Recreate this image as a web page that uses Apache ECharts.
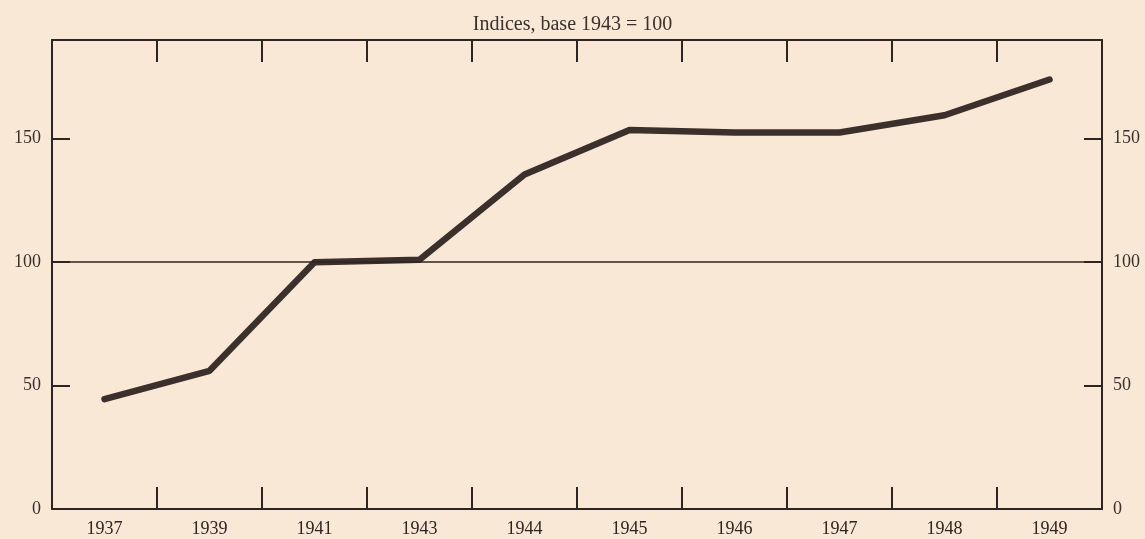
<!DOCTYPE html>
<html>
<head>
<meta charset="utf-8">
<style>
  html, body { margin: 0; padding: 0; background: #f9e8d6; }
  #chart { width: 1145px; height: 539px; }
</style>
<script src="https://cdn.jsdelivr.net/npm/echarts@6/dist/echarts.min.js"></script>
</head>
<body>
<div id="chart"></div>
<script>
const years = ['1937', '1939', '1941', '1943', '1944', '1945', '1946', '1947', '1948', '1949']
const indexValues = [44.5, 56, 100, 101, 135.5, 153.5, 152.5, 152.5, 159.5, 174]
const yTicks = [0, 50, 100, 150]
const baseLine = 100

const ink = '#2e2421'
const font = 'Liberation Serif'

const chart = echarts.init(document.getElementById('chart'))

const yAxisCommon = {
  type: 'value',
  min: 0,
  max: 190,
  interval: 50,
  axisLine: { show: true, lineStyle: { color: ink, width: 2 } },
  axisTick: { show: true, inside: true, length: 18, lineStyle: { color: ink, width: 2 } },
  splitLine: { show: false },
  axisLabel: {
    color: '#3a302c',
    fontFamily: font,
    fontSize: 18,
    margin: 11,
    showMaxLabel: false,
    formatter: (v) => (yTicks.includes(v) ? String(v) : '')
  }
}

const xAxisCommon = {
  type: 'category',
  data: years,
  boundaryGap: true,
  axisLine: { show: true, onZero: false, lineStyle: { color: ink, width: 2 } },
  axisTick: { show: true, alignWithLabel: false, inside: true, length: 22, lineStyle: { color: ink, width: 2 } },
  splitLine: { show: false }
}

chart.setOption({
  backgroundColor: '#f9e8d6',
  animation: false,
  title: {
    text: 'Indices, base 1943 = 100',
    left: 'center',
    top: 10,
    textStyle: { color: '#3a302c', fontFamily: font, fontSize: 20, fontWeight: 'normal' }
  },
  grid: { left: 52, right: 43, top: 40, bottom: 30 },
  xAxis: [
    Object.assign({}, xAxisCommon, {
      position: 'bottom',
      axisLabel: { color: '#2e2421', fontFamily: font, fontSize: 18, margin: 11 }
    }),
    Object.assign({}, xAxisCommon, {
      position: 'top',
      axisLabel: { show: false }
    })
  ],
  yAxis: [
    Object.assign({}, yAxisCommon, { position: 'left' }),
    Object.assign({}, yAxisCommon, { position: 'right' })
  ],
  series: [
    {
      type: 'line',
      data: indexValues,
      symbol: 'none',
      lineStyle: { color: '#3b302c', width: 6.5, cap: 'round', join: 'round' },
      markLine: {
        silent: true,
        symbol: 'none',
        label: { show: false },
        lineStyle: { color: ink, width: 1.5, type: 'solid' },
        data: [{ yAxis: baseLine }]
      },
      z: 3
    }
  ]
})
</script>
</body>
</html>
